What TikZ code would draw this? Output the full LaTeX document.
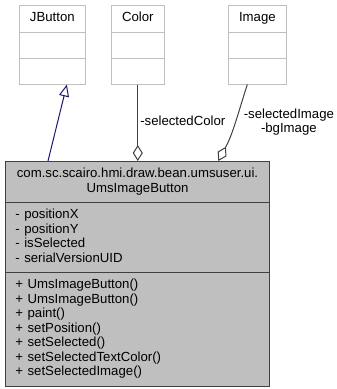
\documentclass[tikz,border=0pt]{standalone}
\usepackage{fontspec}
\setmainfont{Liberation Sans}
\usetikzlibrary{shapes.multipart, arrows.meta}

\definecolor{classgray}{HTML}{BFBFBF}
\definecolor{linegray}{HTML}{404040}
\definecolor{inheritblue}{HTML}{191970}

\begin{document}
\begin{tikzpicture}[x=1pt, y=1pt, font=\fontsize{13.2}{14.5}\selectfont,
  umlclass/.style={rectangle split, rectangle split parts=3, draw, line width=1pt,
    inner xsep=10.5pt, inner ysep=5.5pt, anchor=north west,
    rectangle split empty part height=14pt, rectangle split empty part depth=0pt},
  extclass/.style={umlclass, draw=classgray, fill=white},
  mainclass/.style={umlclass, draw=linegray, fill=classgray, inner xsep=10pt,
    text width=244pt, align=left},
  inherit/.style={draw=inheritblue, line width=1pt, -{Triangle[open, length=12pt, width=10pt]}},
  aggr/.style={draw=linegray, line width=1pt, -{Diamond[open, length=16pt, width=10pt]}},
  role/.style={inner sep=2pt, align=center}]

  \useasboundingbox (0,0) rectangle (337,-389);

  % classes used by the button
  \node[extclass] (jbutton) at (19,-5) {\strut JButton};
  \node[extclass] (color) at (111,-5) {\strut Color};
  \node[extclass] (image) at (228,-5) {\strut Image};

  % the button class itself
  \node[mainclass] (umsbtn) at (5,-161)
    {\makebox[\linewidth]{\strut com.sc.scairo.hmi.draw.bean.umsuser.ui.}\\\makebox[\linewidth]{UmsImageButton\strut}
    \nodepart{two}\strut - positionX\\- positionY\\- isSelected\\- serialVersionUID\strut
    \nodepart{three}\strut + UmsImageButton()\\+ UmsImageButton()\\+ paint()\\+ setPosition()\\
    + setSelected()\\+ setSelectedTextColor()\\+ setSelectedImage()\strut};

  \path ([xshift=43]umsbtn.north west) edge[inherit] ([xshift=14.5]jbutton.south);
  \path (color.south) edge[aggr] node[role, right, pos=0.48] {-selectedColor} (color.south |- umsbtn.north)
        ([xshift=-10]image.south) edge[aggr, out=-108, in=62]
          node[role, right=6pt, pos=0.48] {-selectedImage\\-bgImage} ([xshift=-39]image.south |- umsbtn.north);

\end{tikzpicture}
\end{document}
